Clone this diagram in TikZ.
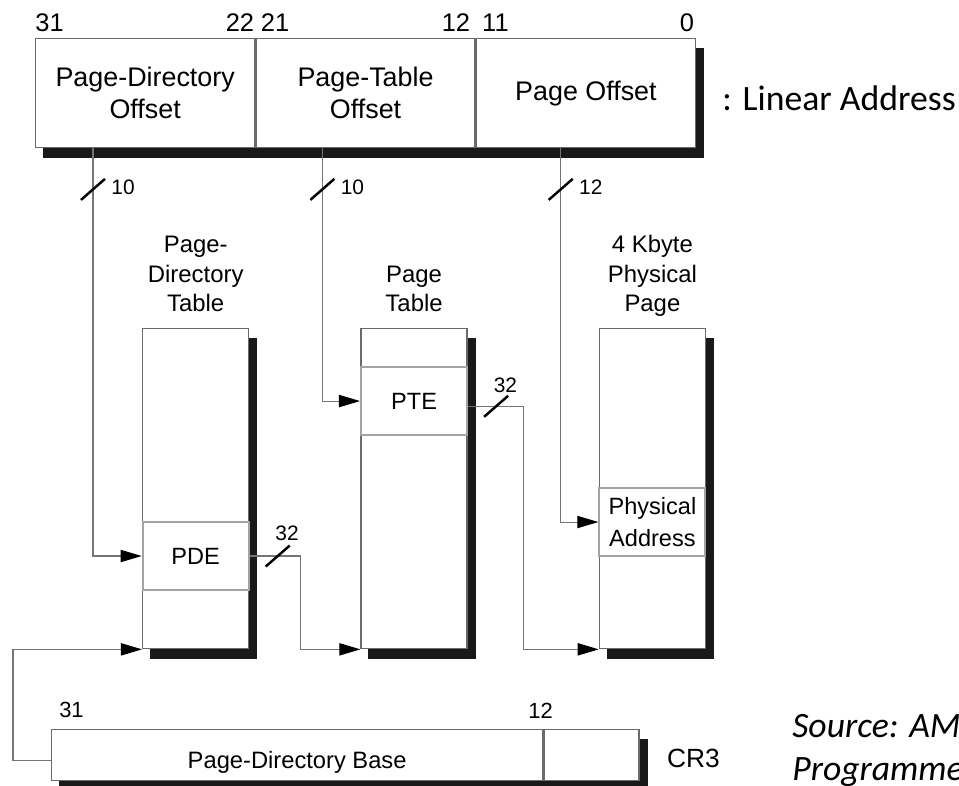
\documentclass[tikz,border=0pt]{standalone}
\usepackage{fontspec}
\setmainfont{Liberation Sans}
\newfontfamily\calibri{Carlito}
\usetikzlibrary{arrows.meta,positioning,backgrounds}
\definecolor{edgegray}{HTML}{6A6A6A}
\definecolor{entrygray}{HTML}{A3A3A3}
\definecolor{wiregray}{HTML}{757575}

\begin{document}
\begin{tikzpicture}[x=0.02cm,y=-0.02cm,
  shd/.style={fill=black!90},
  field/.style={draw=edgegray,line width=0.8pt,fill=white,minimum width=4.38cm,minimum height=2.18cm,inner sep=0pt,align=center,font=\fontsize{15.3}{18}\selectfont},
  crfield/.style={field,minimum height=1.02cm,font=\fontsize{13.5}{16}\selectfont},
  tbl/.style={draw=edgegray,line width=0.8pt,fill=white,minimum width=2.12cm,minimum height=6.4cm,inner sep=0pt},
  entry/.style={draw=entrygray,line width=1.2pt,fill=white,minimum width=2.12cm,minimum height=1.36cm,inner sep=0pt,align=center,font=\fontsize{13.4}{18.5}\selectfont},
  ttl/.style={align=center,inner sep=0pt,text depth=0pt,font=\fontsize{13.6}{16.7}\selectfont},
  bitnum/.style={inner sep=0pt,font=\fontsize{14.5}{17}\selectfont},
  crbit/.style={inner sep=0pt,font=\fontsize{12.5}{15}\selectfont},
  buslbl/.style={inner sep=0pt,font=\fontsize{11.9}{14}\selectfont},
  conn/.style={draw=wiregray,line width=0.6pt},
  arr/.style={conn,-{Triangle[length=12pt,width=7pt,color=black]}},
  bus/.style={draw=black,line width=1.4pt}
]
\useasboundingbox (0,0) rectangle (959,785);

% linear address
\node[field,anchor=north west] (lpd) at (35,38) {Page-Directory\\Offset};
\node[field,right=0pt of lpd] (lpt) {Page-Table\\Offset};
\node[field,right=0pt of lpt] (lpo) {Page Offset};
\node[inner sep=0pt,right=0.52cm of lpo,yshift=-3pt,font=\calibri\fontsize{20.3}{24}\selectfont] (lin) {: Linear Address};

\node[bitnum,above right=3.4pt and 0pt of lpd.north west] (b31) {31};
\node[bitnum,above left=3.4pt and 0.5pt of lpd.north east] (b22) {22};
\node[bitnum,above right=3.4pt and 3pt of lpt.north west] (b21) {21};
\node[bitnum,above left=3.4pt and 3pt of lpt.north east] (b12) {12};
\node[bitnum,above right=3.4pt and 3.5pt of lpo.north west] (b11) {11};
\node[bitnum,above left=3.4pt and 1pt of lpo.north east] (b0) {0};

% tables
\node[tbl,anchor=north west] (pdt) at (142,328) {};
\node[tbl,right=2.22cm of pdt] (ptb) {};
\node[tbl,right=2.62cm of ptb] (php) {};

\node[ttl,above=0.32cm of pdt] (pdtt) {Page-\\Directory\\Table};
\node[ttl,above=0.32cm of ptb] (ptbt) {Page\\Table};
\node[ttl,above=0.32cm of php] (phpt) {4 Kbyte\\Physical\\Page};

\node[entry,below=3.86cm of pdt.north] (pde) {PDE};
\node[entry,below=0.76cm of ptb.north] (pte) {PTE};
\node[entry,below=3.18cm of php.north] (pha) {Physical\\Address};

% CR3
\node[crfield,anchor=north west,minimum width=9.82cm] (pdb) at (51,729) {};
\node[crfield,right=0pt of pdb,minimum width=1.9cm] (rsv) {};
\node[inner sep=0pt,font=\fontsize{13.5}{16}\selectfont] (pdbt) at ([yshift=-4pt]pdb.center) {Page-Directory Base};
\node[crbit,above right=6pt and 4.5pt of pdb.north west] (c31) {31};
\node[crbit,above=6pt of pdb.north east,xshift=-1.5pt] (c12) {12};
\node[inner sep=0pt,right=0.54cm of rsv,yshift=-2pt,font=\fontsize{15}{18}\selectfont] (cr3) {CR3};
\node[inner sep=0pt,anchor=north west,align=left,font=\calibri\itshape\fontsize{20.3}{24.4}\selectfont] (src) at (792,714) {Source: AM\\Programme};

% shadows
\begin{scope}[on background layer]
\fill[shd] ([shift={(4.5pt,-5.5pt)}]lpd.north west) rectangle ([shift={(4.5pt,-5.5pt)}]lpo.south east);
\fill[shd] ([shift={(4.5pt,-5.5pt)}]pdt.north west) rectangle ([shift={(4.5pt,-5.5pt)}]pdt.south east);
\fill[shd] ([shift={(4.5pt,-5.5pt)}]ptb.north west) rectangle ([shift={(4.5pt,-5.5pt)}]ptb.south east);
\fill[shd] ([shift={(4.5pt,-5.5pt)}]php.north west) rectangle ([shift={(4.5pt,-5.5pt)}]php.south east);
\fill[shd] ([shift={(4.5pt,-5.5pt)}]pdb.north west) rectangle ([shift={(4.5pt,-5.5pt)}]rsv.south east);
\end{scope}

% connectors
\draw[arr] ([xshift=1.16cm]lpd.south west) |- (pde.west);
\draw[arr] ([xshift=1.34cm]lpt.south west) |- (pte.west);
\draw[arr] ([xshift=1.7cm]lpo.south west) |- (pha.west);
\draw[arr] (pde.east) -- ++(51,0) |- (ptb.south west);
\draw[arr] ([yshift=-3pt]pte.east) -- ++(55,0) |- (php.south west);
\draw[arr] ([yshift=-3pt]pdb.west) -- ++(-38,0) |- (pdt.south west);

% width marks
\draw[bus] ([xshift=1.16cm,yshift=-0.82cm]lpd.south west) ++(-12,10.5) -- ++(24,-21)
  node[buslbl,anchor=north west,xshift=3pt] {10};
\draw[bus] ([xshift=1.34cm,yshift=-0.82cm]lpt.south west) ++(-12,10.5) -- ++(24,-21)
  node[buslbl,anchor=north west,xshift=3pt] {10};
\draw[bus] ([xshift=1.7cm,yshift=-0.82cm]lpo.south west) ++(-12,10.5) -- ++(24,-21)
  node[buslbl,anchor=north west,xshift=3pt] {12};
\draw[bus] ([xshift=0.56cm]pde.east) ++(-12,10.5) -- ++(24,-21)
  node[buslbl,anchor=south,xshift=-1.5pt,yshift=2pt] {32};
\draw[bus] ([xshift=0.56cm,yshift=-3pt]pte.east) ++(-12,10.5) -- ++(24,-21)
  node[buslbl,anchor=south,xshift=-1.5pt,yshift=1pt] {32};
\end{tikzpicture}
\end{document}
